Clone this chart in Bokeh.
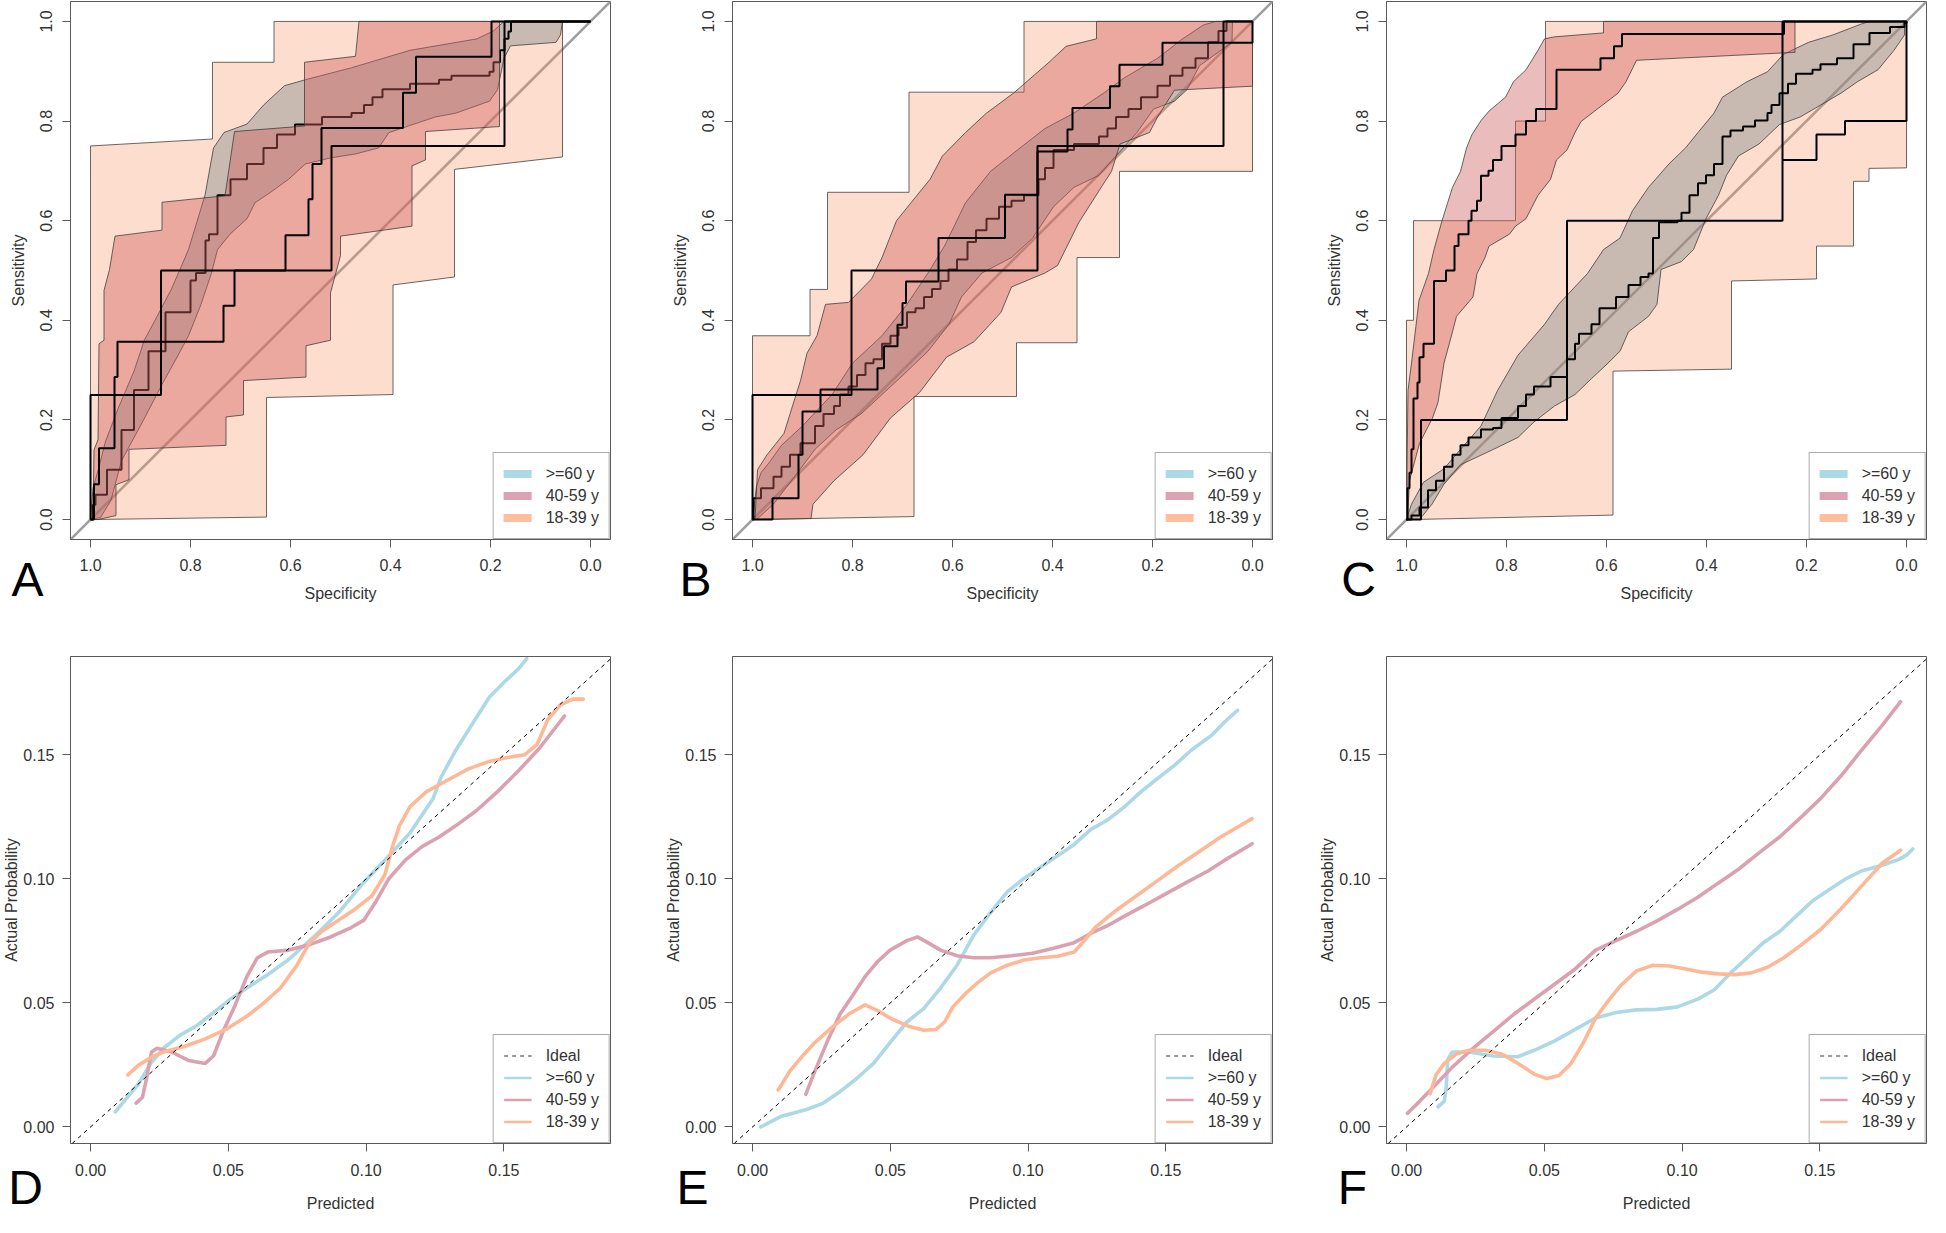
from bokeh.plotting import figure
from bokeh.models import (Range1d, FixedTicker, PrintfTickFormatter, Slope, Legend, LegendItem, GridBox)
from bokeh.core.properties import value
from bokeh.embed import file_html
from bokeh.resources import INLINE

FONT = "Liberation Sans"
GROUPS = [">=60 y", "40-59 y", "18-39 y"]
NAN = float("nan")

# ---------------- ROC data: (specificity, sensitivity) ----------------
# Panel A
A_CI_1839_UP = [(1.0,0.0),(1.0,0.75),(0.756,0.764),(0.756,0.918),(0.633,0.918),(0.633,1.0),(0.056,1.0)]
A_CI_1839_LO = [(0.056,0.728),(0.272,0.703),(0.272,0.487),(0.395,0.471),(0.395,0.251),(0.648,0.245),(0.648,0.005),(1.0,0.0)]
A_CI_4059_UP = [(0.995,0.0),(0.993,0.14),(0.985,0.16),(0.983,0.353),(0.973,0.36),(0.973,0.46),(0.962,0.502),(0.951,0.569),
                (0.857,0.581),(0.857,0.637),(0.731,0.65),(0.712,0.779),(0.572,0.79),(0.572,0.918),(0.47,0.93),(0.463,1.0),(0.182,1.0)]
A_CI_4059_LO = [(0.182,0.789),(0.33,0.779),(0.33,0.722),(0.357,0.71),(0.357,0.589),(0.5,0.569),(0.5,0.53),(0.52,0.455),(0.52,0.36),
                (0.569,0.349),(0.569,0.286),(0.694,0.279),(0.694,0.21),(0.729,0.206),(0.729,0.149),(0.923,0.141),(0.923,0.08),
                (0.949,0.07),(0.949,0.008),(0.985,0.0)]
A_CI_60_UP = [(1.0,0.0),(0.995,0.063),(0.984,0.102),(0.97,0.157),(0.946,0.22),(0.913,0.298),(0.892,0.361),(0.871,0.40),(0.838,0.463),
              (0.804,0.542),(0.771,0.651),(0.754,0.746),(0.733,0.777),(0.687,0.794),(0.654,0.832),(0.612,0.871),(0.57,0.883),
              (0.478,0.907),(0.361,0.942),(0.227,0.965),(0.194,0.981),(0.173,1.0),(0.056,1.0)]
A_CI_60_LO = [(0.06,0.973),(0.069,0.958),(0.16,0.951),(0.173,0.926),(0.186,0.863),(0.202,0.84),(0.269,0.816),(0.311,0.808),
              (0.403,0.777),(0.424,0.746),(0.47,0.734),(0.52,0.726),(0.57,0.714),(0.604,0.683),(0.637,0.659),(0.671,0.636),
              (0.687,0.604),(0.721,0.573),(0.746,0.542),(0.758,0.495),(0.779,0.432),(0.804,0.369),(0.829,0.322),(0.855,0.275),
              (0.896,0.196),(0.938,0.118),(0.959,0.039),(0.98,0.004)]
A_ROC_60 = [(0.995,0.03),(0.99,0.05),(0.967,0.1),(0.938,0.18),(0.913,0.26),(0.884,0.338),(0.85,0.416),(0.80,0.48),(0.789,0.495),
            (0.77,0.56),(0.763,0.573),(0.746,0.651),(0.72,0.683),(0.687,0.714),(0.654,0.746),(0.627,0.773),(0.591,0.793),
            (0.537,0.808),(0.478,0.816),(0.453,0.832),(0.436,0.848),(0.416,0.864),(0.361,0.875),(0.303,0.883),(0.278,0.891),
            (0.202,0.899),(0.194,0.918),(0.181,0.942),(0.172,0.965),(0.164,0.98),(0.159,1.0)]
A_ROC_4059 = [(0.993,0.071),(0.983,0.143),(0.952,0.286),(0.946,0.357),(0.734,0.429),(0.712,0.5),(0.61,0.571),(0.564,0.643),
              (0.556,0.714),(0.538,0.786),(0.375,0.857),(0.349,0.929),(0.198,1.0)]
A_ROC_1839 = [(1.0,0.25),(0.859,0.5),(0.518,0.75),(0.172,1.0)]

# Panel B
B_CI_1839_UP = [(1.0,0.0),(1.0,0.369),(0.885,0.369),(0.885,0.462),(0.85,0.462),(0.85,0.657),(0.687,0.657),(0.687,0.858),
                (0.457,0.858),(0.457,1.0),(0.0,1.0)]
B_CI_1839_LO = [(0.0,0.699),(0.266,0.699),(0.266,0.526),(0.351,0.526),(0.351,0.355),(0.472,0.355),(0.472,0.247),(0.677,0.247),
                (0.677,0.006)]
B_CI_4059_UP = [(0.995,0.0),(0.99,0.1),(0.971,0.13),(0.937,0.173),(0.925,0.212),(0.904,0.279),(0.891,0.334),(0.871,0.369),
                (0.854,0.432),(0.808,0.436),(0.762,0.483),(0.741,0.526),(0.712,0.60),(0.683,0.636),(0.645,0.683),(0.62,0.73),
                (0.574,0.777),(0.532,0.816),(0.478,0.856),(0.407,0.918),(0.373,0.95),(0.312,0.965),(0.312,1.0),(0.0,1.0)]
B_CI_4059_LO = [(0.0,0.87),(0.156,0.862),(0.19,0.808),(0.206,0.777),(0.265,0.754),(0.282,0.699),(0.3,0.671),(0.347,0.597),
                (0.39,0.51),(0.415,0.495),(0.482,0.467),(0.503,0.416),(0.557,0.357),(0.612,0.326),(0.666,0.255),(0.724,0.204),
                (0.779,0.13),(0.837,0.078),(0.879,0.031),(0.883,0.002)]
B_CI_60_UP = [(1.0,0.0),(0.992,0.067),(0.983,0.094),(0.967,0.114),(0.942,0.149),(0.9,0.188),(0.841,0.251),(0.8,0.314),
              (0.741,0.369),(0.691,0.432),(0.649,0.495),(0.616,0.549),(0.574,0.636),(0.524,0.699),(0.465,0.746),(0.415,0.785),
              (0.357,0.816),(0.298,0.856),(0.256,0.887),(0.19,0.926),(0.14,0.965),(0.098,0.993),(0.073,1.0),(0.04,1.0)]
B_CI_60_LO = [(0.041,0.958),(0.106,0.911),(0.131,0.863),(0.156,0.84),(0.198,0.824),(0.231,0.777),(0.273,0.73),(0.307,0.691),
              (0.357,0.667),(0.398,0.628),(0.44,0.565),(0.482,0.526),(0.541,0.495),(0.582,0.447),(0.607,0.392),(0.649,0.338),
              (0.699,0.29),(0.741,0.251),(0.783,0.212),(0.833,0.18),(0.875,0.141),(0.916,0.086),(0.958,0.031),(0.992,0.0)]
B_ROC_60 = [(0.998,0.043),(0.983,0.063),(0.958,0.086),(0.942,0.106),(0.925,0.13),(0.904,0.153),(0.875,0.188),(0.858,0.212),
            (0.837,0.228),(0.825,0.251),(0.808,0.267),(0.791,0.29),(0.774,0.314),(0.758,0.322),(0.741,0.353),(0.724,0.369),
            (0.708,0.385),(0.691,0.416),(0.674,0.424),(0.657,0.447),(0.641,0.463),(0.624,0.479),(0.608,0.502),(0.591,0.522),
            (0.57,0.557),(0.553,0.581),(0.532,0.604),(0.507,0.628),(0.482,0.64),(0.457,0.651),(0.428,0.683),(0.415,0.706),
            (0.398,0.742),(0.357,0.754),(0.307,0.769),(0.29,0.785),(0.273,0.808),(0.248,0.824),(0.223,0.848),(0.19,0.871),
            (0.165,0.891),(0.14,0.907),(0.114,0.926),(0.089,0.958),(0.068,0.981),(0.052,1.0)]
B_ROC_4059 = [(0.96,0.043),(0.908,0.13),(0.90,0.217),(0.864,0.261),(0.75,0.304),(0.737,0.348),(0.71,0.391),(0.70,0.435),
              (0.693,0.478),(0.628,0.565),(0.495,0.652),(0.43,0.739),(0.37,0.783),(0.36,0.826),(0.285,0.87),(0.266,0.913),
              (0.18,0.957),(0.0,1.0)]
B_ROC_1839 = [(1.0,0.25),(0.802,0.5),(0.43,0.75),(0.058,1.0)]

# Panel C
C_CI_1839_UP = [(1.0,0.0),(1.0,0.4),(0.986,0.4),(0.986,0.6),(0.782,0.6),(0.782,0.8),(0.722,0.8),(0.722,1.0),(0.0,1.0)]
C_CI_1839_LO = [(0.0,0.706),(0.075,0.705),(0.075,0.679),(0.106,0.679),(0.106,0.549),(0.18,0.549),(0.18,0.483),(0.35,0.479),
                (0.35,0.302),(0.587,0.298),(0.587,0.009),(0.99,0.0)]
C_CI_4059_UP = [(0.998,0.0),(0.999,0.102),(0.997,0.259),(0.99,0.314),(0.975,0.44),(0.956,0.494),(0.945,0.542),(0.929,0.6),
                (0.908,0.667),(0.892,0.699),(0.88,0.746),(0.869,0.773),(0.851,0.801),(0.835,0.82),(0.802,0.848),(0.786,0.879),
                (0.761,0.903),(0.737,0.942),(0.724,0.965),(0.704,0.969),(0.606,0.977),(0.606,1.0),(0.223,1.0)]
C_CI_4059_LO = [(0.223,0.938),(0.54,0.922),(0.561,0.879),(0.577,0.856),(0.651,0.799),(0.663,0.777),(0.679,0.742),(0.7,0.722),
                (0.712,0.683),(0.737,0.651),(0.761,0.604),(0.782,0.589),(0.794,0.573),(0.835,0.549),(0.843,0.526),(0.859,0.494),
                (0.867,0.447),(0.9,0.408),(0.908,0.377),(0.925,0.314),(0.937,0.235),(0.948,0.204),(0.974,0.153),(0.994,0.078)]
C_CI_60_UP = [(1.0,0.0),(0.99,0.031),(0.966,0.075),(0.925,0.102),(0.892,0.141),(0.851,0.188),(0.818,0.259),(0.777,0.33),
              (0.724,0.392),(0.696,0.432),(0.638,0.494),(0.606,0.542),(0.573,0.565),(0.548,0.62),(0.516,0.667),(0.475,0.714),
              (0.442,0.746),(0.417,0.777),(0.385,0.816),(0.368,0.848),(0.319,0.879),(0.278,0.899),(0.246,0.934),(0.196,0.958),
              (0.147,0.973),(0.09,0.995),(0.074,1.0),(0.004,1.0)]
C_CI_60_LO = [(0.004,0.973),(0.025,0.942),(0.057,0.903),(0.098,0.879),(0.131,0.856),(0.172,0.832),(0.213,0.808),(0.254,0.793),
              (0.295,0.754),(0.336,0.73),(0.36,0.691),(0.376,0.651),(0.401,0.604),(0.426,0.542),(0.45,0.518),(0.491,0.502),
              (0.499,0.432),(0.516,0.408),(0.556,0.377),(0.573,0.338),(0.597,0.314),(0.63,0.283),(0.663,0.251),(0.704,0.228),
              (0.745,0.196),(0.777,0.165),(0.826,0.141),(0.892,0.11),(0.925,0.071),(0.949,0.031),(0.974,0.0)]
C_ROC_60 = [(0.99,0.008),(0.974,0.024),(0.957,0.059),(0.941,0.078),(0.925,0.106),(0.908,0.13),(0.892,0.149),(0.876,0.165),
            (0.851,0.181),(0.827,0.184),(0.81,0.204),(0.777,0.228),(0.761,0.251),(0.745,0.267),(0.712,0.286),(0.679,0.322),
            (0.663,0.353),(0.655,0.373),(0.63,0.392),(0.614,0.424),(0.581,0.447),(0.556,0.471),(0.532,0.487),(0.516,0.494),
            (0.507,0.565),(0.495,0.597),(0.458,0.60),(0.45,0.616),(0.434,0.651),(0.417,0.675),(0.401,0.691),(0.385,0.714),
            (0.368,0.769),(0.352,0.781),(0.327,0.789),(0.303,0.801),(0.278,0.816),(0.27,0.832),(0.254,0.856),(0.237,0.875),
            (0.221,0.895),(0.188,0.903),(0.172,0.914),(0.139,0.926),(0.106,0.954),(0.074,0.977),(0.033,0.989),(0.004,0.997),
            (0.0,1.0)]
C_ROC_4059 = [(0.998,0.063),(0.994,0.094),(0.99,0.141),(0.986,0.243),(0.978,0.275),(0.974,0.326),(0.966,0.353),(0.945,0.479),
              (0.921,0.5),(0.904,0.549),(0.896,0.573),(0.876,0.6),(0.87,0.62),(0.859,0.64),(0.851,0.69),(0.836,0.7),
              (0.827,0.722),(0.81,0.75),(0.782,0.773),(0.761,0.8),(0.741,0.824),(0.7,0.903),(0.612,0.926),(0.585,0.95),
              (0.569,0.975),(0.245,1.0)]
C_ROC_1839 = [(0.971,0.2),(0.679,0.6),(0.248,1.0)]
C_ROC_1839_TAIL_START = (0.248, 0.722)
C_ROC_1839_TAIL = [(0.18,0.773),(0.123,0.8),(0.0,1.0)]

# ---------------- Calibration data: (predicted, actual) ----------------
D_CAL_60 = [(0.009,0.0061),(0.0127,0.0111),(0.0173,0.0172),(0.0218,0.0256),(0.0264,0.0317),(0.0325,0.037),(0.0385,0.0408),
            (0.0446,0.0461),(0.0507,0.0515),(0.0567,0.056),(0.0643,0.0614),(0.0719,0.0675),(0.081,0.0766),(0.0901,0.0865),
            (0.0992,0.0987),(0.1083,0.1093),(0.1159,0.1185),(0.1242,0.1322),(0.1273,0.1413),(0.1326,0.152),(0.1386,0.1626),
            (0.1447,0.1733),(0.1508,0.1801),(0.1553,0.1847),(0.1583,0.1888)]
D_CAL_4059 = [(0.0165,0.0096),(0.0188,0.0119),(0.0203,0.0195),(0.0221,0.0302),(0.0241,0.0317),(0.0294,0.0302),(0.0355,0.0268),
              (0.0416,0.0256),(0.0446,0.0286),(0.0484,0.0393),(0.0522,0.0484),(0.0567,0.0606),(0.0605,0.0682),(0.0643,0.0705),
              (0.0719,0.0713),(0.0795,0.0735),(0.0871,0.0766),(0.0946,0.0804),(0.0992,0.0834),(0.1037,0.0911),(0.1083,0.1002),
              (0.1144,0.1078),(0.1204,0.1131),(0.1265,0.1169),(0.1326,0.1215),(0.1401,0.1276),(0.1477,0.1352),(0.1553,0.1436),
              (0.1629,0.1527),(0.172,0.1657)]
D_CAL_1839 = [(0.0135,0.021),(0.0173,0.0248),(0.0218,0.0279),(0.0264,0.0302),(0.034,0.0324),(0.0416,0.0355),(0.0491,0.0393),
              (0.0567,0.0446),(0.0628,0.0499),(0.0689,0.056),(0.0749,0.0652),(0.0795,0.0743),(0.084,0.0789),(0.0901,0.0834),
              (0.0962,0.088),(0.1022,0.0933),(0.1068,0.1017),(0.1098,0.1139),(0.1121,0.1215),(0.1159,0.1291),(0.1219,0.1352),
              (0.1295,0.1398),(0.1371,0.1444),(0.1447,0.1474),(0.1523,0.1492),(0.1576,0.1501),(0.1621,0.1543),(0.1659,0.1642),
              (0.1705,0.1702),(0.175,0.1725),(0.1788,0.1725)]
E_CAL_60 = [(0.0029,0.0),(0.0105,0.0043),(0.0196,0.007),(0.0257,0.0096),(0.0317,0.0142),(0.0378,0.0195),(0.0439,0.0256),
            (0.0499,0.034),(0.056,0.0423),(0.0621,0.0477),(0.0682,0.056),(0.0742,0.0652),(0.0803,0.0774),(0.0864,0.0865),
            (0.0925,0.0949),(0.0985,0.1002),(0.1046,0.1048),(0.1107,0.1093),(0.1167,0.1139),(0.1228,0.12),(0.1289,0.1238),
            (0.135,0.1291),(0.141,0.1352),(0.1471,0.1406),(0.1532,0.1459),(0.1593,0.152),(0.1668,0.1581),(0.1714,0.1634),
            (0.176,0.168)]
E_CAL_4059 = [(0.0193,0.0131),(0.0226,0.0225),(0.0272,0.0347),(0.0317,0.0454),(0.0363,0.053),(0.0408,0.0606),(0.0454,0.0667),
              (0.0499,0.0713),(0.056,0.0751),(0.0598,0.0766),(0.0636,0.0743),(0.0682,0.0713),(0.0742,0.069),(0.0803,0.0682),
              (0.0864,0.0682),(0.094,0.069),(0.1016,0.07),(0.1092,0.072),(0.1167,0.0743),(0.1228,0.0781),(0.1289,0.0812),
              (0.135,0.085),(0.1426,0.0895),(0.1501,0.0941),(0.1577,0.0987),(0.1653,0.1032),(0.1729,0.1086),(0.1813,0.1142)]
E_CAL_1839 = [(0.0093,0.0149),(0.0135,0.0225),(0.0181,0.0286),(0.0226,0.034),(0.0287,0.04),(0.0348,0.0454),(0.0408,0.0492),
              (0.0454,0.0469),(0.0499,0.0439),(0.056,0.0408),(0.0621,0.039),(0.0666,0.0393),(0.0697,0.0423),(0.0727,0.0484),
              (0.0773,0.0538),(0.0818,0.0583),(0.0864,0.0621),(0.0925,0.0652),(0.0985,0.0673),(0.1046,0.0682),(0.1107,0.0688),
              (0.1167,0.0705),(0.1198,0.0743),(0.1243,0.0804),(0.1319,0.0873),(0.1395,0.0933),(0.1471,0.0994),(0.1547,0.1055),
              (0.1623,0.1112),(0.1699,0.1169),(0.1813,0.1243)]
F_CAL_60 = [(0.0114,0.0081),(0.0137,0.0104),(0.0144,0.0164),(0.0149,0.0271),(0.0166,0.0302),(0.0226,0.0302),(0.0315,0.0286),
            (0.0404,0.0283),(0.0463,0.0309),(0.0538,0.0347),(0.0612,0.0393),(0.0686,0.0439),(0.076,0.0461),(0.0835,0.0472),
            (0.0909,0.0474),(0.0983,0.0484),(0.1057,0.0515),(0.1117,0.0553),(0.1176,0.0621),(0.1236,0.0682),(0.1295,0.0743),
            (0.1355,0.0789),(0.1414,0.085),(0.1473,0.0911),(0.1533,0.0956),(0.1592,0.0999),(0.1651,0.1032),(0.1726,0.1055),
            (0.1785,0.1078),(0.1815,0.1096),(0.1837,0.1121)]
F_CAL_4059 = [(0.0003,0.0055),(0.0048,0.0104),(0.0107,0.0172),(0.0166,0.0241),(0.0241,0.0317),(0.0315,0.0385),(0.0389,0.0454),
              (0.0463,0.0515),(0.0538,0.0576),(0.0612,0.0637),(0.0686,0.0713),(0.076,0.0751),(0.0835,0.0789),(0.0909,0.0831),
              (0.0983,0.0877),(0.1057,0.0926),(0.1132,0.0984),(0.1206,0.104),(0.128,0.1106),(0.1355,0.117),(0.1429,0.1246),
              (0.1503,0.1325),(0.1577,0.1416),(0.1652,0.152),(0.1726,0.1619),(0.1793,0.1715)]
F_CAL_1839 = [(0.0085,0.0134),(0.0107,0.021),(0.0137,0.0256),(0.0181,0.0294),(0.0226,0.0309),(0.0285,0.0309),(0.0345,0.0294),
              (0.0404,0.0256),(0.0463,0.0213),(0.0508,0.0195),(0.0553,0.0207),(0.0597,0.0256),(0.0642,0.034),(0.0686,0.0439),
              (0.0731,0.0507),(0.0775,0.0568),(0.0835,0.0629),(0.0894,0.0652),(0.0954,0.0649),(0.1013,0.0637),(0.1072,0.0624),
              (0.1132,0.0617),(0.1191,0.0614),(0.1251,0.0621),(0.131,0.0644),(0.1369,0.0682),(0.1429,0.0731),(0.1503,0.0796),
              (0.1577,0.088),(0.1652,0.0972),(0.1726,0.1063),(0.1793,0.1116)]

ROC_TICKS = [0.0, 0.2, 0.4, 0.6, 0.8, 1.0]
CAL_TICKS = [0.0, 0.05, 0.10, 0.15]
PANEL_LETTERS = [["A", "B", "C"], ["D", "E", "F"]]

# ---------------- styles / layout ----------------
BOX = "#5a5a5a"
TXT = "#333333"
FS = "16px"
LEG_COL = {">=60 y": "#ADD8E6", "40-59 y": "#DBA3B2", "18-39 y": "#FFBE9E"}
CAL_COL = {">=60 y": "#ADD8E6", "40-59 y": "#DBA1B0", "18-39 y": "#FFB896"}
BAND_1839 = dict(fill_color="#F88E58", fill_alpha=0.30)
BAND_4059 = dict(fill_color="#D0605F", fill_alpha=0.42)
BAND_60 = dict(fill_color="#7A8888", fill_alpha=0.40)
BAND_LINE = dict(line_color="#3a3a3a", line_width=0.9, line_alpha=0.85)

ROW_H = [620, 597]
COL_W = [662, 654, 612]
COL_R = [52, 44, 2]
# letter centres in each panel's own canvas pixels (x from left, y from top)
LETTER_X = [[27, 33, 42], [25, 30, 36]]
LETTER_Y = [579, 567]


def stairs(jumps, start=(1.0, 0.0), end_x=0.0):
    xs, ys = [start[0]], [start[1]]
    for sx, sy in jumps:
        xs += [sx, sx]
        ys += [ys[-1], sy]
    xs.append(end_x)
    ys.append(ys[-1])
    return xs, ys


def polygon(up, lo):
    pts = up + lo
    return [p[0] for p in pts], [p[1] for p in pts]


def style(p, fmt, ticks, xl_stand, xt_stand, yl_stand, yt_stand, yvertical):
    p.outline_line_color = BOX
    p.outline_line_width = 1
    p.xgrid.visible = False
    p.ygrid.visible = False
    p.background_fill_color = "white"
    p.border_fill_color = "white"
    for ax in (p.xaxis[0], p.yaxis[0]):
        ax.ticker = FixedTicker(ticks=ticks)
        ax.formatter = PrintfTickFormatter(format=fmt)
        ax.axis_line_color = BOX
        ax.major_tick_line_color = BOX
        ax.major_tick_out = 8
        ax.major_tick_in = 0
        ax.minor_tick_line_color = None
        ax.major_label_text_font = FONT
        ax.major_label_text_font_size = FS
        ax.major_label_text_color = TXT
        ax.axis_label_text_font = FONT
        ax.axis_label_text_font_size = FS
        ax.axis_label_text_font_style = "normal"
        ax.axis_label_text_color = TXT
    p.xaxis[0].major_label_standoff = xl_stand
    p.xaxis[0].axis_label_standoff = xt_stand
    p.yaxis[0].major_label_standoff = yl_stand
    p.yaxis[0].axis_label_standoff = yt_stand
    if yvertical:
        p.yaxis[0].major_label_orientation = "vertical"


def make_legend(p, items):
    leg = Legend(items=items, location="bottom_right", margin=0, padding=10, spacing=1,
                 label_height=21, glyph_height=21, glyph_width=28, label_standoff=14,
                 label_text_font=FONT, label_text_font_size=FS, label_text_color=TXT,
                 border_line_color=BOX, border_line_width=1, background_fill_color="white",
                 background_fill_alpha=1.0)
    p.add_layout(leg)


def roc_panel(i, ci18, ci40, ci60, roc60, roc40, roc18, extra=None):
    p = figure(width=COL_W[i], height=ROW_H[0], x_range=Range1d(1.04, -0.04), y_range=Range1d(-0.04, 1.04),
               min_border_left=66, min_border_right=COL_R[i], min_border_top=1, min_border_bottom=81,
               x_axis_label="Specificity", y_axis_label="Sensitivity",
               output_backend="svg", toolbar_location=None)
    style(p, "%.1f", ROC_TICKS, 11, 11, 10, 11, True)
    p.add_layout(Slope(gradient=-1, y_intercept=1, line_color="#9f9f9f", line_width=2.6, level="underlay"))
    xs, ys = polygon(*ci18)
    p.patch(xs, ys, **BAND_1839, **BAND_LINE)
    xs, ys = polygon(*ci60)
    p.patch(xs, ys, **BAND_60, **BAND_LINE)
    xs, ys = stairs(roc60)
    p.line(xs, ys, line_color="black", line_width=2)
    xs, ys = polygon(*ci40)
    p.patch(xs, ys, **BAND_4059, **BAND_LINE)
    xs, ys = stairs(roc40)
    p.line(xs, ys, line_color="black", line_width=2)
    xs, ys = stairs(roc18)
    p.line(xs, ys, line_color="black", line_width=2)
    if extra is not None:
        xs, ys = stairs(extra[1], start=extra[0])
        p.line(xs, ys, line_color="black", line_width=2)
    items = []
    for g in GROUPS:
        r = p.line([NAN], [NAN], line_color=LEG_COL[g], line_width=8, line_cap="round")
        items.append(LegendItem(label=g, renderers=[r]))
    make_legend(p, items)
    return p


def cal_panel(i, c60, c40, c18):
    p = figure(width=COL_W[i], height=ROW_H[1], x_range=Range1d(-0.0073, 0.1887), y_range=Range1d(-0.0067, 0.1897),
               min_border_left=66, min_border_right=COL_R[i], min_border_top=36, min_border_bottom=74,
               x_axis_label="Predicted", y_axis_label="Actual Probability",
               output_backend="svg", toolbar_location=None)
    style(p, "%.2f", CAL_TICKS, 12, 16, 8, 0, False)
    items = []
    r = p.line([NAN], [NAN], line_color="#333333", line_width=1.2, line_dash="4 4")
    items.append(LegendItem(label="Ideal", renderers=[r]))
    for g, data in zip(GROUPS, (c60, c40, c18)):
        p.line([d[0] for d in data], [d[1] for d in data], line_color=CAL_COL[g], line_width=3.6, line_cap="round")
    for g in GROUPS:
        r = p.line([NAN], [NAN], line_color=CAL_COL[g], line_width=2.5)
        items.append(LegendItem(label=g, renderers=[r]))
    p.add_layout(Slope(gradient=1, y_intercept=0, line_color="black", line_width=1, line_dash="4 4"))
    make_legend(p, items)
    return p


def letter_overlay(r, c):
    w, h = COL_W[c], ROW_H[r]
    q = figure(width=w, height=h, x_range=Range1d(0, w), y_range=Range1d(h, 0),
               min_border_left=0, min_border_right=0, min_border_top=0, min_border_bottom=0,
               x_axis_location=None, y_axis_location=None, output_backend="svg", toolbar_location=None,
               background_fill_color=None, border_fill_color=None, outline_line_color=None)
    try:
        q.frame_align = False
    except Exception:
        pass
    q.grid.visible = False
    q.text(x=[LETTER_X[r][c]], y=[LETTER_Y[r]], text=[PANEL_LETTERS[r][c]], text_font=value(FONT),
           text_font_size="48px", text_color="black", text_align="center", text_baseline="middle")
    return q


pa = roc_panel(0, (A_CI_1839_UP, A_CI_1839_LO), (A_CI_4059_UP, A_CI_4059_LO), (A_CI_60_UP, A_CI_60_LO),
               A_ROC_60, A_ROC_4059, A_ROC_1839)
pb = roc_panel(1, (B_CI_1839_UP, B_CI_1839_LO), (B_CI_4059_UP, B_CI_4059_LO), (B_CI_60_UP, B_CI_60_LO),
               B_ROC_60, B_ROC_4059, B_ROC_1839)
pc = roc_panel(2, (C_CI_1839_UP, C_CI_1839_LO), (C_CI_4059_UP, C_CI_4059_LO), (C_CI_60_UP, C_CI_60_LO),
               C_ROC_60, C_ROC_4059, C_ROC_1839, extra=(C_ROC_1839_TAIL_START, C_ROC_1839_TAIL))
pd = cal_panel(0, D_CAL_60, D_CAL_4059, D_CAL_1839)
pe = cal_panel(1, E_CAL_60, E_CAL_4059, E_CAL_1839)
pf = cal_panel(2, F_CAL_60, F_CAL_4059, F_CAL_1839)

panels = [[pa, pb, pc], [pd, pe, pf]]
children = []
for r in range(2):
    for c in range(3):
        children.append((panels[r][c], r, c))
for r in range(2):
    for c in range(3):
        children.append((letter_overlay(r, c), r, c))

grid = GridBox(children=children, spacing=0)
open("out.html", "w").write(file_html(grid, INLINE))
